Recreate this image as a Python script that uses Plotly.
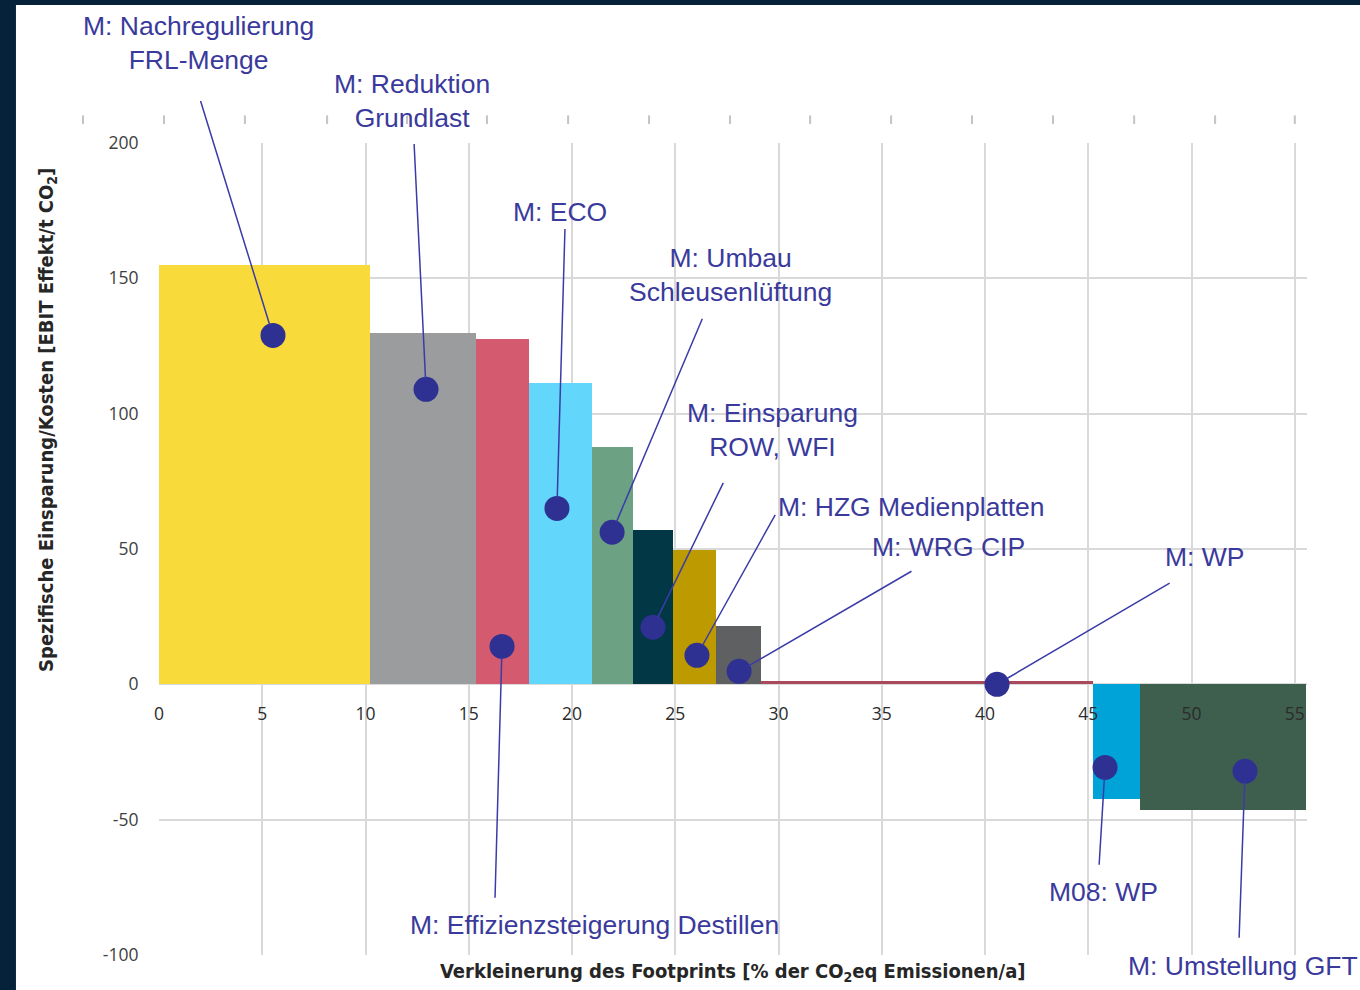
import numpy as np
import plotly.graph_objects as go

# ---------------- data ----------------
measures = [
    "M: Nachregulierung<br>FRL-Menge",
    "M: Reduktion<br>Grundlast",
    "M: Effizienzsteigerung Destillen",
    "M: ECO",
    "M: Umbau<br>Schleusenlüftung",
    "M: Einsparung<br>ROW, WFI",
    "M: HZG Medienplatten",
    "M: WRG CIP",
    "M: WP",
    "M08: WP",
    "M: Umstellung GFT",
]
# footprint reduction per measure [% of CO2eq emissions / a]
reduction_width = [10.22, 5.13, 2.57, 3.05, 1.99, 1.94, 2.08, 2.18, 16.05, 2.30, 8.05]
# specific saving / cost [EBIT effect / t CO2]
specific_value = [154.8, 129.7, 127.7, 111.2, 87.6, 56.9, 49.5, 21.4, 1.2, -42.5, -46.3]
# marker points (dot) of each measure
dot_x = [5.52, 12.93, 16.61, 19.27, 21.94, 23.92, 26.05, 28.09, 40.58, 45.81, 52.59]
dot_y = [128.9, 109.0, 14.0, 65.0, 56.2, 21.1, 10.7, 4.8, 0.0, -30.7, -32.1]

x_ticks = [0, 5, 10, 15, 20, 25, 30, 35, 40, 45, 50, 55]
x_tick_text = ["0", "5", "10", "15", "20", "25", "30", "35", "40", "45", "50", "55"]
y_ticks = [-100, -50, 0, 50, 100, 150, 200]
y_tick_text = ["-100", "-50", "0", "50", "100", "150", "200"]

# ---------------- styles / layout positions ----------------
bar_colors = ["#F9DA3B", "#9B9C9E", "#D45B6F", "#62D7FB", "#6DA184", "#023746",
              "#BC9A00", "#5F6062", "#A9495B", "#00A3D7", "#3F5F4E"]
label_x = [1.89, 12.25, 21.07, 19.42, 27.65, 29.73, 36.42, 38.21, 50.65, 45.76, 52.49]
label_y = [236.8, 215.4, -89.0, 174.4, 151.4, 93.8, 65.4, 50.6, 46.9, -76.9, -104.0]
tail_x = [1.99, 12.35, 16.27, 19.66, 26.34, 27.36, 29.88, 36.51, 49.01, 45.52, 52.30]
tail_y = [216.1, 200.2, -79.4, 168.8, 135.6, 75.0, 63.2, 42.1, 37.7, -67.2, -94.2]
top_mark_x = [-3.68, 0.24, 4.16, 8.14, 12.01, 15.88, 19.81, 23.73, 27.65, 31.53,
              35.45, 39.37, 43.29, 47.22, 51.14, 55.0]
top_mark_y0, top_mark_y1 = 207.0, 210.2

X_RANGE = [0, 55.59]
Y_RANGE = [-100, 200]

LABEL_COLOR = "#3A3A9C"
DOT_COLOR = "#2E3192"
GRID = "#D9D9D9"
NAVY = "#05223A"
Y_TICK_FONT = dict(family="Open Sans, Liberation Sans, sans-serif", size=17.5, color="#404040")
X_TICK_FONT = dict(family="Open Sans, Liberation Sans, sans-serif", size=17.5, color="#2B2B2B")
TITLE_FONT = dict(family="Liberation Sans Narrow, DejaVu Sans Condensed, Open Sans, sans-serif",
                  size=20, color="#262626")

edges = np.concatenate([[0], np.cumsum(reduction_width)])
centers = (edges[:-1] + edges[1:]) / 2


def px(x):
    return (x - X_RANGE[0]) / (X_RANGE[1] - X_RANGE[0])


def py(y):
    return (y - Y_RANGE[0]) / (Y_RANGE[1] - Y_RANGE[0])


fig = go.Figure()

fig.add_trace(go.Bar(
    x=centers, y=specific_value, width=reduction_width,
    marker=dict(color=bar_colors, line=dict(width=0)),
    showlegend=False, hoverinfo="skip",
))

fig.add_trace(go.Scatter(
    x=dot_x, y=dot_y, mode="markers",
    marker=dict(size=25, color=DOT_COLOR),
    cliponaxis=False, showlegend=False, hoverinfo="skip",
))

annotations = []
for i in range(len(measures)):
    annotations.append(dict(
        x=dot_x[i], y=dot_y[i], xref="x", yref="y",
        ax=tail_x[i], ay=tail_y[i], axref="x", ayref="y",
        text="", showarrow=True, arrowhead=0, arrowwidth=1.5,
        arrowcolor="#3B3BA8", standoff=11,
    ))
    annotations.append(dict(
        x=px(label_x[i]), y=py(label_y[i]), xref="paper", yref="paper",
        text=measures[i], showarrow=False, align="center",
        xanchor="center", yanchor="middle",
        font=dict(family="Liberation Sans, Arial, sans-serif", size=26.5, color=LABEL_COLOR),
    ))

annotations.append(dict(
    x=0.5, y=-0.0209, xref="paper", yref="paper",
    text="<b>Verkleinerung des Footprints [% der CO<sub>2</sub>eq Emissionen/a]</b>",
    showarrow=False, xanchor="center", yanchor="middle", font=TITLE_FONT,
))
annotations.append(dict(
    x=-0.0976, y=0.6589, xref="paper", yref="paper",
    text="<b>Spezifische Einsparung/Kosten [EBIT Effekt/t CO<sub>2</sub>]</b>",
    showarrow=False, xanchor="center", yanchor="middle", textangle=-90, font=TITLE_FONT,
))

shapes = [
    dict(type="rect", xref="paper", yref="paper", x0=-0.2, x1=-0.1246, y0=-0.1, y1=1.3,
         fillcolor=NAVY, line=dict(width=0), layer="above"),
    dict(type="rect", xref="paper", yref="paper", x0=-0.2, x1=1.1, y0=1.170, y1=1.3,
         fillcolor=NAVY, line=dict(width=0), layer="above"),
]
# faint tick marks above the plot area (leftover secondary axis)
for mx in top_mark_x:
    shapes.append(dict(
        type="line", xref="paper", yref="paper",
        x0=px(mx), x1=px(mx), y0=py(top_mark_y0), y1=py(top_mark_y1),
        line=dict(color="#C4C4C4", width=2), layer="above",
    ))

fig.update_layout(
    width=1360, height=990,
    margin=dict(l=159, r=53, t=143, b=35),
    paper_bgcolor="white", plot_bgcolor="white",
    bargap=0,
    annotations=annotations, shapes=shapes,
    xaxis=dict(
        range=X_RANGE, tickvals=x_ticks, ticktext=x_tick_text,
        showgrid=True, gridcolor=GRID, gridwidth=1.5,
        zeroline=False, showline=False, anchor="free", position=py(0),
        ticks="outside", ticklen=14, tickcolor="rgba(0,0,0,0)",
        tickfont=X_TICK_FONT,
    ),
    yaxis=dict(
        range=Y_RANGE, tickvals=y_ticks, ticktext=y_tick_text,
        showgrid=True, gridcolor=GRID, gridwidth=1.5,
        zeroline=False, showline=False, ticks="outside", ticklen=16,
        tickcolor="rgba(0,0,0,0)", tickfont=Y_TICK_FONT,
    ),
)

fig.write_html(
    "out.html",
    config={"displayModeBar": False},
    post_script="document.body.style.margin='0';document.body.style.overflow='hidden';",
)
